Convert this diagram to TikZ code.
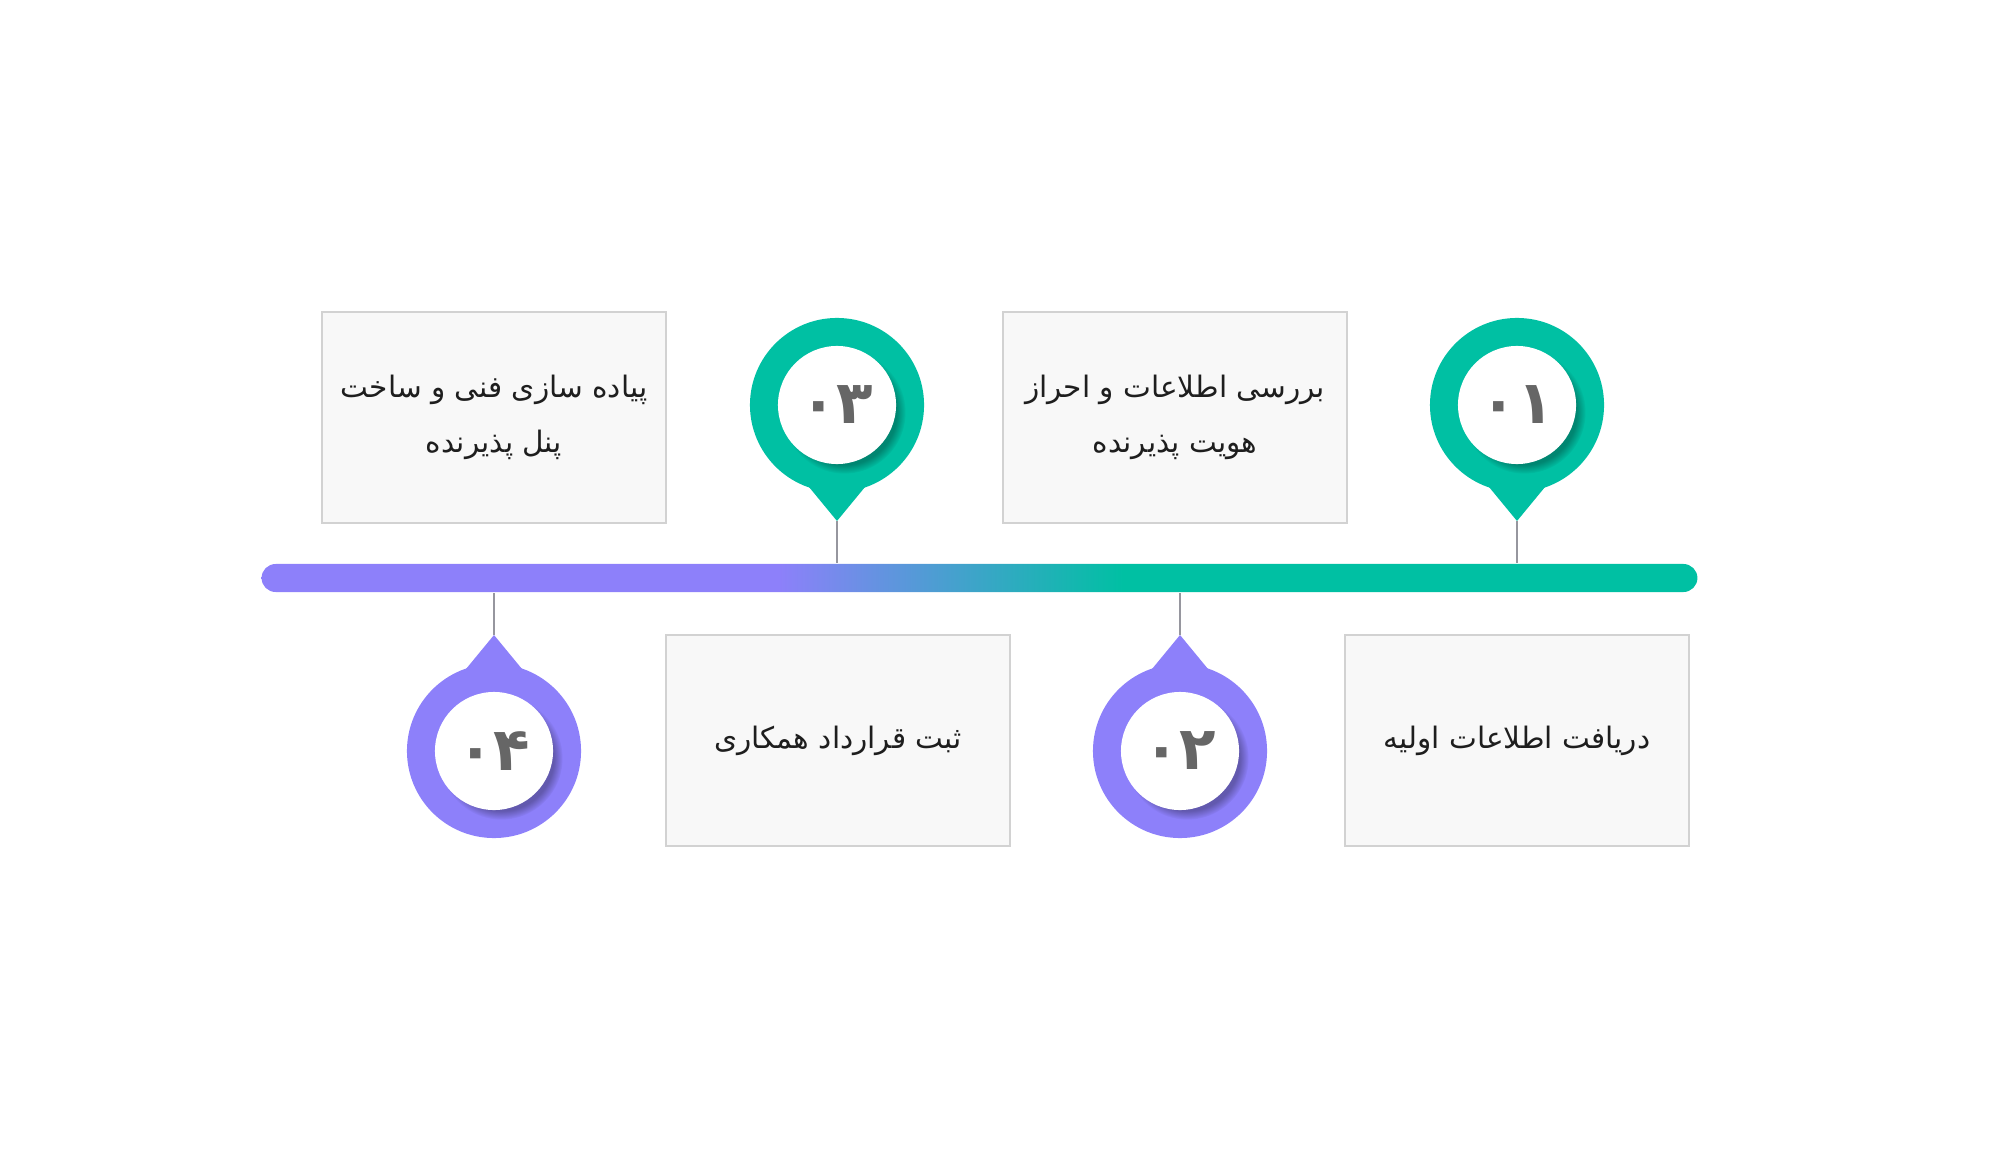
\documentclass[tikz,border=0pt]{standalone}
\usepackage{fontspec}
\newfontfamily\arabicfont[Script=Arabic]{DejaVu Sans}
\newfontfamily\numfont{DejaVu Sans}
\TeXXeTstate=1
\usetikzlibrary{positioning, shadows, calc}
\definecolor{stepteal}{RGB}{0, 192, 163}
\definecolor{steppurple}{RGB}{141, 128, 250}
\definecolor{boxfill}{RGB}{248, 248, 248}
\definecolor{boxline}{RGB}{210, 210, 210}
\definecolor{digitgray}{RGB}{102, 102, 102}
\definecolor{stemgray}{RGB}{150, 150, 158}
\definecolor{textdark}{RGB}{30, 30, 30}
\pgfdeclarehorizontalshading{barshade}{100bp}{color(0bp)=(steppurple); color(43bp)=(steppurple); color(55bp)=(stepteal); color(100bp)=(stepteal)}

\begin{document}
\begin{tikzpicture}[x=0.01cm, y=-0.01cm,
  timebar/.style={rectangle, rounded corners=0.14cm, minimum width=14.35cm, minimum height=0.28cm, inner sep=0pt, shading=barshade},
  pinhead/.style={circle, minimum size=1.74cm, inner sep=0pt},
  pinface/.style={circle, fill=white, minimum size=1.18cm, inner sep=0pt, text=digitgray,
    font=\numfont\bfseries\fontsize{17}{17}\selectfont,
    circular drop shadow={shadow xshift=0.07cm, shadow yshift=-0.07cm, opacity=0.3, fill=black, shadow scale=1.04}},
  stagebox/.style={rectangle, draw=boxline, line width=0.4pt, fill=boxfill, minimum width=3.44cm, minimum height=2.11cm,
    align=center, text=textdark, font=\arabicfont\fontsize{8.4}{15.5}\selectfont},
  stem/.style={draw=stemgray, line width=0.45pt}]

  \useasboundingbox (0,0) rectangle (2000,1167);

  % timeline
  \node[timebar] (bar) at (979.5,578) {};

  % pins, top ones point down, bottom ones point up
  \foreach \px/\py/\s/\side/\c/\num [count=\i] in {1517/405/1/north/stepteal/۰۱, 1180/751/-1/south/steppurple/۰۲, 837/405/1/north/stepteal/۰۳, 494/751/-1/south/steppurple/۰۴} {
    \node[pinhead, fill=\c] (pin\i) at (\px,\py) {};
    \fill[\c] (\px-28,\py+82*\s) -- (\px,\py+116*\s) coordinate (tip\i) -- (\px+28,\py+82*\s) -- cycle;
    \node[pinface] (face\i) at (pin\i.center) {\num};
    \draw[stem] (tip\i) -- (tip\i |- bar.\side);
  }

  % step texts
  \node[stagebox] (box1) at (1517,740.5) {\beginR دریافت اطلاعات اولیه\endR};
  \node[stagebox] (box2) at (1175,417.5) {\beginR بررسی اطلاعات و احراز\endR\\\beginR هویت پذیرنده\endR};
  \node[stagebox] (box3) at (838,740.5) {\beginR ثبت قرارداد همکاری\endR};
  \node[stagebox] (box4) at (494,417.5) {\beginR پیاده سازی فنی و ساخت\endR\\\beginR پنل پذیرنده\endR};
\end{tikzpicture}
\end{document}
